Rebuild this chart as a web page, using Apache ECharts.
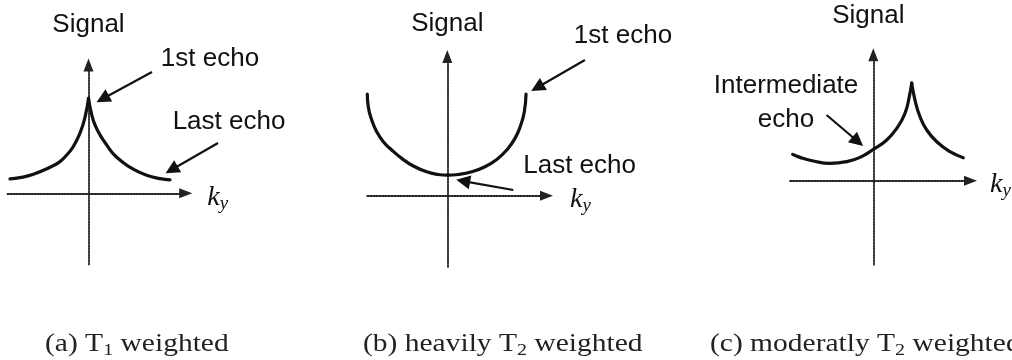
<!DOCTYPE html>
<html>
<head>
<meta charset="utf-8">
<script src="https://cdn.jsdelivr.net/npm/echarts@6/dist/echarts.min.js"></script>
<style>
  html, body { margin: 0; padding: 0; background: #fff; }
  #chart { width: 1012px; height: 360px; }
</style>
</head>
<body>
<div id="chart"></div>
<script>
// (a) T1 weighted: signal peaks where the 1st echo fills k_y = 0
const t1LeftKy      = [-0.969, -0.846, -0.681, -0.475, -0.352, -0.269, -0.188, -0.105, -0.043, 0];
const t1LeftSignal  = [0.151, 0.164, 0.200, 0.274, 0.333, 0.403, 0.491, 0.632, 0.80, 1.0];
const t1RightKy     = [0, 0.04, 0.08, 0.142, 0.225, 0.306, 0.43, 0.553, 0.718, 0.883, 1.006];
const t1RightSignal = [1.0, 0.824, 0.719, 0.614, 0.508, 0.414, 0.322, 0.253, 0.189, 0.154, 0.14];

// (b) heavily T2 weighted: 1st echo at the edges, last echo at the centre
const t2HeavyKy     = [-1.0, -0.988, -0.945, -0.883, -0.80, -0.695, -0.57, -0.425, -0.258, -0.113, 0,
                       0.138, 0.305, 0.471, 0.618, 0.743, 0.846, 0.918, 0.963, 0.984];
const t2HeavySignal = [1.0, 0.875, 0.745, 0.630, 0.531, 0.450, 0.367, 0.292, 0.235, 0.209, 0.202,
                       0.209, 0.235, 0.285, 0.357, 0.449, 0.564, 0.695, 0.826, 1.0];

// (c) moderately T2 weighted: an intermediate echo fills k_y = 0
const t2ModLeftKy      = [-1.008, -0.916, -0.75, -0.541, -0.333, -0.166, 0, 0.168, 0.293, 0.396, 0.45, 0.48];
const t2ModLeftSignal  = [0.270, 0.239, 0.202, 0.178, 0.195, 0.239, 0.321, 0.417, 0.536, 0.690, 0.860, 1.0];
const t2ModRightKy     = [0.48, 0.521, 0.584, 0.668, 0.793, 0.959, 1.125];
const t2ModRightSignal = [1.0, 0.826, 0.655, 0.519, 0.399, 0.297, 0.235];

// Axis ranges per panel [xMin, xMax, yMin, yMax]
const panelRanges = [
  [-1.0, 1.2, -0.75, 1.35],
  [-1.0, 1.24, -0.7, 1.37],
  [-1.04, 1.215, -0.86, 1.29]
];

// Annotation texts and where they sit (k_y, signal)
const noteTexts  = [['1st echo', 'Last echo'], ['1st echo', 'Last echo'], ['Intermediate\necho']];
const notePoints = [[[1.5, 1.41], [1.735, 0.75]], [[2.196, 1.57], [1.654, 0.292]], [[-1.091, 0.80]]];

// Pointer arrows: [from, to] in (k_y, signal)
const arrowCoords = [
  [[[0.784, 1.277], [0.175, 0.994]], [[1.599, 0.529], [1.026, 0.248]]],
  [[[1.72, 1.334], [1.125, 1.064]], [[0.825, 0.056], [0.198, 0.144]]],
  [[[-0.584, 0.673], [-0.194, 0.401]]]
];

const captionTexts = [
  '(a) T{s|1} weighted',
  '(b) heavily T{s|2} weighted',
  '(c) moderatly T{s|2} weighted'
];

const zip = (xs, ys) => xs.map((x, i) => [x, ys[i]]);
const INK = '#111';

const chart = echarts.init(document.getElementById('chart'), null, { renderer: 'canvas' });

const grids = [
  { left: 7.5, top: 65, width: 178.2, height: 199.5 },
  { left: 367.3, top: 56.4, width: 179.2, height: 210.5 },
  { left: 790.1, top: 54.7, width: 180.4, height: 210 }
].map(g => Object.assign({ outerBoundsMode: 'none', containLabel: false }, g));

const dottedAxisLine = {
  show: true,
  onZero: true,
  symbol: ['none', 'triangle'],
  symbolSize: [10, 13],
  lineStyle: { color: '#222', width: 1.8, type: [1.6, 1.4] }
};

const kyGaps = [21.5, 23.5, 19.5];
const signalGaps = [40.5, 32.7, 38.7];
const signalPads = [[0, 0, 0, 0], [0, 0, 0, 0], [0, 10, 0, 0]];

const xAxes = panelRanges.map((r, i) => ({
  type: 'value', gridIndex: i, min: r[0], max: r[1],
  axisLine: dottedAxisLine,
  axisTick: { show: false }, axisLabel: { show: false }, splitLine: { show: false },
  name: '{k|k}{y|y}', nameLocation: 'end', nameGap: kyGaps[i],
  nameTextStyle: {
    align: 'left', verticalAlign: 'middle', padding: [8, 0, 0, 0],
    rich: {
      k: { fontFamily: 'Liberation Serif', fontStyle: 'italic', fontSize: 28, lineHeight: 32, color: INK },
      y: { fontFamily: 'Liberation Serif', fontStyle: 'italic', fontSize: 19, lineHeight: 15, verticalAlign: 'bottom', color: INK }
    }
  }
}));

const yAxes = panelRanges.map((r, i) => ({
  type: 'value', gridIndex: i, min: r[2], max: r[3],
  axisLine: dottedAxisLine,
  axisTick: { show: false }, axisLabel: { show: false }, splitLine: { show: false },
  name: 'Signal', nameLocation: 'end', nameGap: signalGaps[i],
  nameTextStyle: {
    fontFamily: 'Liberation Sans', fontSize: 26, color: INK,
    align: 'center', verticalAlign: 'middle', padding: signalPads[i]
  }
}));

const curve = (i, data) => ({
  type: 'line', xAxisIndex: i, yAxisIndex: i, data,
  symbol: 'none', showSymbol: false, smooth: 0.5,
  lineStyle: { color: INK, width: 3.2, cap: 'round' }, silent: true
});

const series = [
  curve(0, zip(t1LeftKy, t1LeftSignal)),
  curve(0, zip(t1RightKy, t1RightSignal)),
  curve(1, zip(t2HeavyKy, t2HeavySignal)),
  curve(2, zip(t2ModLeftKy, t2ModLeftSignal)),
  curve(2, zip(t2ModRightKy, t2ModRightSignal))
];

arrowCoords.forEach((list, i) => {
  series.push({
    type: 'lines', coordinateSystem: 'cartesian2d', xAxisIndex: i, yAxisIndex: i,
    clip: false, silent: true,
    symbol: ['none', 'triangle'], symbolSize: [10, 14],
    lineStyle: { color: INK, width: 2.2, opacity: 1, curveness: 0 },
    data: list.map(c => ({ coords: c }))
  });
});

chart.setOption({
  animation: false,
  backgroundColor: '#fff',
  grid: grids,
  xAxis: xAxes,
  yAxis: yAxes,
  series
});

// Annotation texts are placed through each panel's own scales
const noteGraphics = [];
noteTexts.forEach((texts, i) => {
  texts.forEach((t, j) => {
    const p = chart.convertToPixel({ gridIndex: i }, notePoints[i][j]);
    noteGraphics.push({
      type: 'text', x: p[0], y: p[1], silent: true,
      style: {
        text: t, fontFamily: 'Liberation Sans', fontSize: 26, lineHeight: 34,
        fill: INK, align: 'center', verticalAlign: 'middle'
      }
    });
  });
});

const captionLeft = [45, 363, 710];
const captionGraphics = captionTexts.map((t, i) => ({
  type: 'text', x: captionLeft[i], y: 329.5, scaleX: 1.18, silent: true,
  style: {
    text: t, fontFamily: 'Liberation Serif', fontSize: 25, lineHeight: 30,
    fill: '#222', verticalAlign: 'top', align: 'left',
    rich: { s: { fontFamily: 'Liberation Serif', fontSize: 17, lineHeight: 17, verticalAlign: 'bottom', fill: '#222' } }
  }
}));

chart.setOption({ graphic: noteGraphics.concat(captionGraphics) });
</script>
</body>
</html>
